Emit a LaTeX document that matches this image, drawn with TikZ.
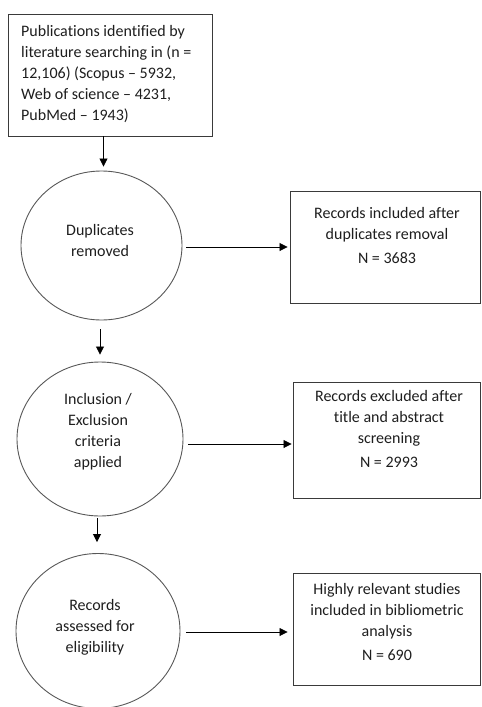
\documentclass[tikz,border=0pt]{standalone}
\usepackage{fontspec}
\setmainfont[Ligatures=NoCommon]{Carlito}
\usetikzlibrary{shapes.geometric,arrows.meta}
\definecolor{edge}{HTML}{3A3A3A}
\definecolor{txt}{HTML}{1E1E1E}
\begin{document}
\begin{tikzpicture}[x=1pt,y=-1pt,
  box/.style={draw=edge,line width=0.9pt,rectangle,inner sep=0pt},
  oval/.style={draw=edge!85,line width=0.9pt,ellipse,inner sep=0pt},
  lbl/.style={text=txt,font=\fontsize{16}{21}\selectfont,align=center,inner sep=0pt},
  arr/.style={draw=black,line width=0.8pt,-{Triangle[length=8pt,width=8pt]}}
]
\useasboundingbox (0,0) rectangle (482,707);
\clip (0,0) rectangle (482,707);
% top box
\node[box,minimum width=204pt,minimum height=122pt] (b1) at (110,75) {};
\node[lbl,align=left,anchor=west] (t1) at (21,74) {Publications identified by\\literature searching in (n =\\12,106) (Scopus -- 5932,\\Web of science -- 4231,\\PubMed -- 1943)};
% circles
\node[oval,minimum width=161pt,minimum height=149pt] (c1) at (101.5,245.5) {};
\node[lbl] (tc1) at (100,240) {Duplicates\\removed};
\node[oval,minimum width=166pt,minimum height=154pt] (c2) at (100,439) {};
\node[lbl] (tc2) at (98,432) {Inclusion /\\Exclusion\\criteria\\applied};
\node[oval,minimum width=164pt,minimum height=155pt] (c3) at (98,631) {};
\node[lbl] (tc3) at (95,627) {Records\\assessed for\\eligibility};
% right boxes
\node[box,minimum width=190pt,minimum height=112pt] (b2) at (385,247) {};
\node[lbl] (tb2) at (387,235) {Records included after\\duplicates removal\\[3pt]N = 3683};
\node[box,minimum width=187pt,minimum height=116pt] (b3) at (386.5,440) {};
\node[lbl] (tb3) at (389,429) {Records excluded after\\title and abstract\\screening\\[3pt]N = 2993};
\node[box,minimum width=187pt,minimum height=112pt] (b4) at (386.5,629) {};
\node[lbl] (tb4) at (387,622) {Highly relevant studies\\included in bibliometric\\analysis\\[3pt]N = 690};
% vertical arrows
\draw[arr] ([xshift=2pt]b1.south -| c1.north) -- ([xshift=2pt,yshift=4pt]c1.north);
\draw[arr,shorten <=9pt,shorten >=7pt] ([xshift=-1.5pt]c1.south) -- ([xshift=-1.5pt]c1.south |- c2.north);
\draw[arr,shorten <=2pt,shorten >=11pt] ([xshift=-3pt]c2.south) -- ([xshift=-3pt]c2.south |- c3.north);
% horizontal arrows
\draw[arr,shorten <=4pt,shorten >=2pt] (c1.east |- b2.west) -- (b2.west);
\draw[arr,shorten <=5pt,shorten >=1pt] (c2.east |- 0,444) -- (b3.west |- 0,444);
\draw[arr,shorten <=6pt,shorten >=5pt] (c3.east |- 0,632) -- (b4.west |- 0,632);
\end{tikzpicture}
\end{document}
